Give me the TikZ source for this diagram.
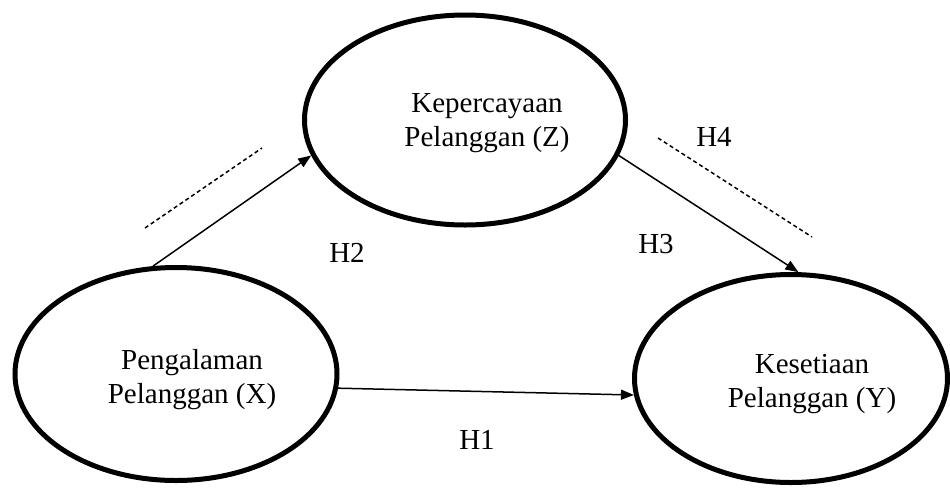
\documentclass[tikz,border=0pt]{standalone}
\usepackage{fontspec}
\setmainfont{Liberation Serif}
\usetikzlibrary{arrows.meta,shapes.geometric}
\begin{document}
\begin{tikzpicture}[x=1pt,y=-1pt,
  var/.style={ellipse,draw=black,line width=5pt,inner sep=0pt,fill=none},
  lbl/.style={align=center,inner sep=0pt,font=\fontsize{29}{34}\selectfont},
  hyp/.style={inner sep=0pt,font=\fontsize{29}{34}\selectfont},
  path1/.style={line width=1.5pt,-{Triangle[length=13pt,width=10pt]}},
  dline/.style={line width=1.5pt,dash pattern=on 4pt off 3pt}]
\useasboundingbox (0,0) rectangle (950,488);
% variables
\node[var,minimum width=321pt,minimum height=210pt] (Z) at (465,120) {};
\node[var,minimum width=322pt,minimum height=213pt] (X) at (176,374) {};
\node[var,minimum width=313pt,minimum height=208pt] (Y) at (791,378.5) {};
\node[lbl] (Zt) at (487,123) {Kepercayaan\\Pelanggan (Z)};
\node[lbl] (Xt) at (192,380) {Pengalaman\\Pelanggan (X)};
\node[lbl] (Yt) at (812,384) {Kesetiaan\\Pelanggan (Y)};
% paths
\draw[path1] (X.102.4) -- (Z.193.8);
\draw[path1] (Z.-13.6) -- (Y.86.4);
\draw[path1] (X.-5) -- (Y.186.6);
% dashed indirect lines
\coordinate (d1a) at (145,228);
\coordinate (d1b) at (262,148);
\coordinate (d2a) at (658,138);
\coordinate (d2b) at (812,237);
\draw[dline] (d1a) -- (d1b);
\draw[dline] (d2a) -- (d2b);
% labels
\node[hyp] (H2) at (347,253) {H2};
\node[hyp] (H3) at (656,244) {H3};
\node[hyp] (H4) at (714,137) {H4};
\node[hyp] (H1) at (477,440) {H1};
\end{tikzpicture}
\end{document}
